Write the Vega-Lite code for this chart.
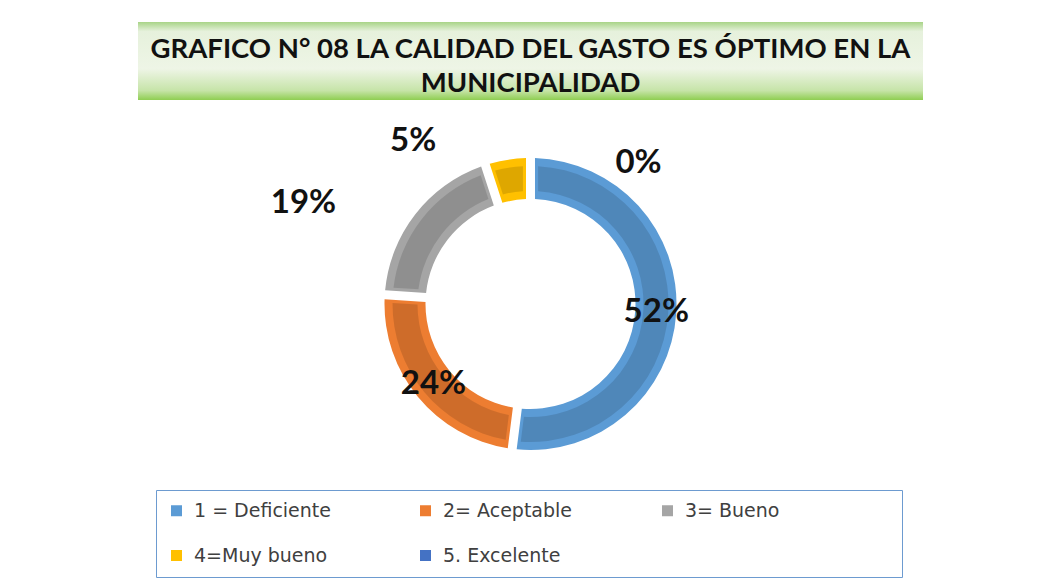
{
  "$schema": "https://vega.github.io/schema/vega-lite/v6.json",
  "background": "white",
  "padding": {"left": 138, "top": 22, "right": 10, "bottom": 0},
  "center": true,
  "spacing": 10,
  "vconcat": [
    {
      "width": 785,
      "height": 78,
      "view": {"stroke": null},
      "data": {"values": [{"t": "GRAFICO N° 08 LA CALIDAD DEL GASTO ES ÓPTIMO EN LA"}]},
      "layer": [
        {
          "mark": {
            "type": "rect",
            "color": {
              "gradient": "linear",
              "x1": 0, "y1": 0, "x2": 0, "y2": 1,
              "stops": [
                {"offset": 0, "color": "#a8d487"},
                {"offset": 0.12, "color": "#e6f1dc"},
                {"offset": 0.6, "color": "#eef5e6"},
                {"offset": 0.88, "color": "#c6e4a8"},
                {"offset": 1, "color": "#8fce52"}
              ]
            }
          },
          "encoding": {}
        },
        {
          "mark": {
            "type": "text",
            "font": "Lato",
            "fontWeight": "bold",
            "fontSize": 27.5,
            "color": "#111111",
            "align": "center",
            "baseline": "middle",
            "lineHeight": 34
          },
          "encoding": {
            "x": {"datum": 0.5, "type": "quantitative", "scale": {"domain": [0, 1]}, "axis": null},
            "y": {"datum": 0.64, "type": "quantitative", "scale": {"domain": [0, 1]}, "axis": null},
            "text": {"value": ["GRAFICO N° 08 LA CALIDAD DEL GASTO ES ÓPTIMO EN LA", "MUNICIPALIDAD"]}
          }
        }
      ]
    },
    {
      "width": 760,
      "height": 382,
      "view": {"stroke": null},
      "data": {
        "values": [
          {"cat": "1 = Deficiente", "pct": 0.52},
          {"cat": "2= Aceptable", "pct": 0.24},
          {"cat": "3= Bueno", "pct": 0.19},
          {"cat": "4=Muy bueno", "pct": 0.05},
          {"cat": "5. Excelente", "pct": 0.0}
        ]
      },
      "encoding": {
        "theta": {"field": "pct", "type": "quantitative", "stack": true},
        "order": {"field": "cat", "sort": "ascending"}
      },
      "layer": [
        {
          "mark": {"type": "arc", "radius": 146, "radius2": 105, "padAngle": 0.05},
          "encoding": {
            "color": {
              "field": "cat",
              "type": "nominal",
              "scale": {
                "domain": ["1 = Deficiente", "2= Aceptable", "3= Bueno", "4=Muy bueno", "5. Excelente"],
                "range": ["#5b9bd5", "#ed7d31", "#a5a5a5", "#ffc000", "#4472c4"]
              },
              "legend": {
                "title": null,
                "orient": "none",
                "legendX": 18,
                "legendY": 468,
                "direction": "horizontal",
                "columns": 3,
                "gridAlign": "each",
                "columnPadding": 85,
                "rowPadding": 25,
                "symbolType": "square",
                "symbolSize": 121,
                "symbolStrokeWidth": 0,
                "labelFont": "DejaVu Sans",
                "labelFontSize": 19,
                "labelColor": "#404040",
                "labelOffset": 8,
                "labelLimit": 400,
                "labelExpr": "datum.label === '3= Bueno' ? datum.label + '\u2800\u2800\u2800\u2800\u2800\u2800\u2800\u2800' : datum.label",
                "fillColor": "white",
                "strokeColor": "#6d9bd0",
                "padding": 11
              }
            }
          }
        },
        {
          "mark": {"type": "arc", "radius": 138, "radius2": 113, "padAngle": 0.085, "color": "black", "opacity": 0.13},
          "encoding": {"detail": {"field": "cat"}}
        },
        {
          "mark": {"type": "text", "radius": 126, "font": "Lato", "fontWeight": "bold", "fontSize": 33, "color": "#111111", "align": "center", "baseline": "middle"},
          "encoding": {
            "detail": {"field": "cat"},
            "text": {"condition": {"test": "datum.pct >= 0.2", "field": "pct", "type": "quantitative", "format": ".0%"}, "value": ""}
          }
        },
        {
          "mark": {"type": "text", "radius": 200, "dx": -69, "dy": 22, "font": "Lato", "fontWeight": "bold", "fontSize": 33, "color": "#111111", "align": "center", "baseline": "middle"},
          "encoding": {
            "detail": {"field": "cat"},
            "text": {"condition": {"test": "datum.cat === '3= Bueno'", "field": "pct", "type": "quantitative", "format": ".0%"}, "value": ""}
          }
        },
        {
          "mark": {"type": "text", "radius": 200, "dx": -86, "dy": 35, "font": "Lato", "fontWeight": "bold", "fontSize": 33, "color": "#111111", "align": "center", "baseline": "middle"},
          "encoding": {
            "detail": {"field": "cat"},
            "text": {"condition": {"test": "datum.cat === '4=Muy bueno'", "field": "pct", "type": "quantitative", "format": ".0%"}, "value": ""}
          }
        },
        {
          "mark": {"type": "text", "radius": 200, "dx": 108, "dy": 59, "font": "Lato", "fontWeight": "bold", "fontSize": 33, "color": "#111111", "align": "center", "baseline": "middle"},
          "encoding": {
            "detail": {"field": "cat"},
            "text": {"condition": {"test": "datum.cat === '5. Excelente'", "field": "pct", "type": "quantitative", "format": ".0%"}, "value": ""}
          }
        }
      ]
    }
  ]
}
